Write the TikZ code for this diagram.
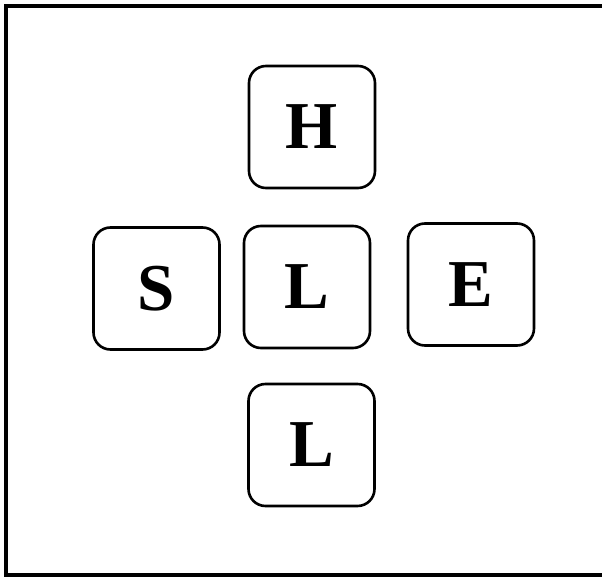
\documentclass[tikz,border=0pt]{standalone}
\usepackage{fontspec}
\setmainfont{Liberation Serif}
\begin{document}
\begin{tikzpicture}[x=1pt,y=-1pt,
  keybox/.style={draw,line width=2.6pt,rounded corners=17pt,minimum width=126pt,minimum height=122pt,inner sep=0pt,
    font=\fontsize{67}{67}\selectfont\bfseries}]
\useasboundingbox (0,0) rectangle (602,577);
\coordinate (tr) at (602,6);
\coordinate (tl) at (6,6);
\coordinate (bl) at (6,575);
\coordinate (br) at (602,575);
\draw[line width=3.2pt] (tr) -- (tl) -- (bl) -- (br);
\node[keybox] (h) at (312,127) {H};
\node[keybox] (s) at (156.5,288.5) {S};
\node[keybox] (l1) at (307,287) {L};
\node[keybox] (e) at (471,284.5) {E};
\node[keybox] (l2) at (311.5,445) {L};
\end{tikzpicture}
\end{document}
